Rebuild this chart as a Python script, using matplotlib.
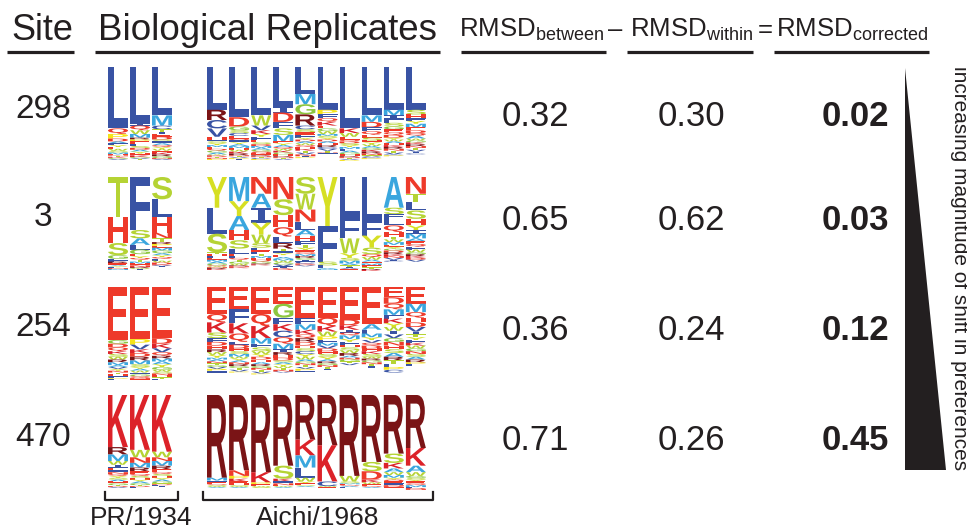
import matplotlib
matplotlib.use("Agg")
import matplotlib.pyplot as plt
from matplotlib.textpath import TextPath
from matplotlib.patches import PathPatch, Polygon
from matplotlib.font_manager import FontProperties
from matplotlib.transforms import Affine2D

W, H = 967, 531

sites = ["298", "3", "254", "470"]
rmsd_between = ["0.32", "0.65", "0.36", "0.71"]
rmsd_within = ["0.30", "0.62", "0.24", "0.26"]
rmsd_corrected = ["0.02", "0.03", "0.12", "0.45"]
strains = ["PR/1934", "Aichi/1968"]

# logo columns (letter + percent, top of stack first): 3 PR/1934 replicates, then 10 Aichi/1968
logo_298 = [
    "L66 Q6 P5 D3 A2 F2 Y2 E2 W2 S2 M2 H1 N1 T1 K1 G1 V1",
    "L61 I2 Q5 W4 M4 R2 P2 E3 F2 S2 D2 A2 Y2 H2 K2 G1 V1 T1",
    "L52 M11 C4 T3 I2 E3 D3 S2 F2 A2 Q2 Y2 W2 H2 K2 R2 G2 N1 V1",
    "L46 R11 C9 V9 H3 F2 S2 Y2 M2 E2 Q2 G2 A2 W1 K1 D1 T1 N1 P1",
    "L54 D10 G4 S3 C3 E3 Q2 F2 Y2 A2 M2 H2 W2 K2 R2 N1 T1 V1 P1 I1",
    "L52 W11 V5 K4 Y3 F3 E3 S2 D2 M2 A2 G2 Q2 H2 R1 N1 T1 C1 P1",
    "L43 I6 D10 F7 S7 M7 E2 Y2 A2 Q2 W2 K2 G2 H2 R1 N1 T1 V1",
    "L29 M11 G11 R12 C4 S3 E3 F3 Y2 D2 A2 W2 Q2 H2 K2 T2 V2 N2 I1 P1",
    "L46 P5 F4 Q4 K4 E3 G3 W3 M2 S2 Y2 D2 A2 H2 R2 C2 V2 T2 N1 I1",
    "L66 K5 W4 E3 Q2 D2 S2 Y2 M2 F2 A2 G2 H2 R1 N1 T1 V1 P1",
    "L52 M7 D6 F4 Q4 E3 S3 H2 Y2 W2 A2 G2 K2 R2 N2 T1 V1 C1 P1",
    "L46 M6 I4 F4 S4 G3 E3 Q3 D3 Y2 W2 A2 H2 K2 R2 N2 T2 V2 C1 P1",
    "L46 S5 H4 F3 Y3 M4 E3 D3 Q3 A3 W2 G2 K2 R2 N2 T2 V2 I2 C1",
]
logo_3 = [
    "T43 H28 S13 G4 F3 R2 E2 A1 Y1 L1 N1 M1",
    "F57 S9 A7 L5 G5 E2 Y2 Q2 T2 M2 H2 N2 R1 W1 I1",
    "S24 L19 H17 N6 T4 R2 P2 E2 M3 G3 A2 Y2 Q2 F2 W2 D2 K1 V1 I1",
    "Y33 L28 S20 T2 H2 F2 E2 M2 A2 G2 Q1 W1 N1 R1 K1",
    "M26 Y16 A15 H11 S9 L6 E2 F2 Q2 T2 G2 W2 R1 N1 K1",
    "N18 A15 I16 Y13 W9 S5 F3 E2 L2 T2 M2 H2 Q2 G2 R1 K1",
    "N24 S17 H13 Q10 L7 R6 T3 F2 Y2 E2 A2 M2 W2 G2 V2 I2 K1 D1",
    "S18 W17 N13 L9 A6 H6 F4 T3 Y3 E2 Q2 M2 R2 G2 I2 C2 K1 D1 V1",
    "Y53 F38 S4 L3 A1 M1",
    "L44 F22 W16 Y5 S3 M3 A2 T2 I1 V1 E1",
    "L47 F16 Y13 S7 Q3 W3 A2 H2 M2 E2 T2 R1 K1",
    "A33 S7 F5 L7 Q7 H5 T3 W3 M3 E2 Y2 G2 D2 R2 K2 N2 V2 I1 C1",
    "N18 T9 L9 S9 H7 Y5 I4 M5 A3 E3 Q3 F3 W3 G2 R2 K2 D2 V2",
]
logo_254 = [
    "E57 G4 D4 Q4 K3 S3 W3 R3 M3 A2 V2 Y2 N2 T2 H2 F2 P1 L1",
    "E56 P6 V5 K4 D4 R4 M4 S3 Y2 A2 W2 F2 G2 Q2 N1 H1",
    "E55 D6 K5 V4 Q4 R3 M3 A3 Y3 G3 W2 S2 N2 H2 T2 F1",
    "E29 Q9 K11 S6 F4 D4 H4 R3 W3 Y3 M2 A2 N2 T2 G2 V2 P2 L1 I1",
    "E24 F15 K11 Q9 L3 D4 H3 S3 M3 W2 Y2 A2 N2 R2 G2 T2 V2 P1",
    "E29 Q13 K13 M6 F4 S4 W3 Y3 D3 H3 A2 R2 G2 N2 T2 V2 P1",
    "E18 G15 F7 K7 C7 Q7 M6 I3 R3 H3 D3 S2 A2 Y2 W2 T2 N2 V1",
    "E33 F7 M6 K5 Q4 R4 D4 H3 S3 C3 Y3 W3 A2 G2 N2 T2 V2 P2 I1",
    "E33 Q9 K6 W5 P4 F3 M3 V3 D3 H3 S3 Y3 A2 R2 G2 N2 T2 I1",
    "E35 D6 K5 I3 Q3 M4 Y3 F3 H3 S3 W3 R3 A2 N2 G2 T2 V2",
    "E40 A6 F4 M4 Y3 V3 Q3 D3 H3 K3 S3 W2 R2 G2 N2 T2 I2",
    "E11 D7 Q6 M6 F4 K5 Y4 W4 I4 V4 G4 N4 H4 S4 A4 R4 T4 L3 P3 C3",
    "E18 M9 Q6 H5 D5 V5 I3 T3 Y3 F3 K3 W3 G3 N3 S3 A3 R3 P2 L2",
]
logo_470 = [
    "K56 R8 M7 W4 I3 E3 F2 N2 Q2 Y2 S2 A2 H2 G2 T1 D1 V1",
    "K59 W8 N6 M5 R4 E3 Q2 S2 H2 Y2 A2 G2 T1 D1 F1",
    "K61 W6 N4 M5 R4 E3 Q2 S2 H2 Y2 A2 G2 T1 D1 F1 I1",
    "R89 M3 F2 E2 Q1 S1 W1 A1",
    "R81 N6 P3 K3 E2 H2 S1 W1 A1",
    "R83 K11 P2 E2 W1 S1",
    "R76 S14 K3 F2 N2 E1 W1 A1",
    "R48 K17 M13 L11 W4 Y2 E2 S1 A1",
    "R54 K39 C5 W1 E1",
    "R87 W6 S2 M1 E1 Q1 A1 F1",
    "R72 S10 D9 K3 W2 E2 Q1 A1",
    "R63 S10 K6 A4 W3 M3 Y2 Q2 E2 F2 N1 D1 H1",
    "R57 K19 A7 W4 G2 S2 Y2 E2 Q2 M2 F1 D1 N1",
]
logos = [logo_298, logo_3, logo_254, logo_470]

# amino-acid colours (hydrophobicity scale)
aa_colors = {}
for aa in "ILVFC": aa_colors[aa] = "#3953a4"
for aa in "MA": aa_colors[aa] = "#3aa6de"
aa_colors["G"] = "#8cc63f"
for aa in "TSW": aa_colors[aa] = "#b5d334"
aa_colors["Y"] = "#d6df23"
aa_colors["P"] = "#f5e31a"
for aa in "HEQDN": aa_colors[aa] = "#ee3a2a"
aa_colors["K"] = "#dc2229"
aa_colors["R"] = "#7a1416"

ink = "#231f20"
sans = "Liberation Sans"
plt.rcParams["font.family"] = sans
plt.rcParams["mathtext.default"] = "regular"

fig = plt.figure(figsize=(W / 100, H / 100), dpi=100)
ax = fig.add_axes([0, 0, 1, 1]); ax.set_xlim(0, W); ax.set_ylim(0, H); ax.axis("off")

glyph_fp = FontProperties(family=sans, weight="bold")
serif_fp = FontProperties(family="DejaVu Sans Mono", weight="bold")
_glyphs = {}
def letter(ch, x, ytop, w, h):
    if ch not in _glyphs:
        _glyphs[ch] = TextPath((0, 0), ch, size=1, prop=serif_fp if ch == "I" else glyph_fp)
    p = _glyphs[ch]; b = p.get_extents()
    t = Affine2D().translate(-b.x0, -b.y0).scale(w / b.width, h / b.height).translate(x, H - ytop - h)
    ax.add_patch(PathPatch(t.transform_path(p), fc=aa_colors[ch], ec="none", lw=0))

row_top = [67, 177, 287, 395]
logo_h = 93
col_x = [108, 130, 152] + [207 + 22.1 * i for i in range(10)]
col_w = 20
for r, cols in enumerate(logos):
    for c, spec in enumerate(cols):
        y = row_top[r]
        for tok in spec.split():
            h = int(tok[1:]) / 100 * logo_h
            letter(tok[0], col_x[c], y, col_w, h)
            y += h

# headers
def uline(x0, x1, y=52):
    ax.plot([x0, x1], [H - y, H - y], color=ink, lw=2.3, solid_capstyle="butt")
ax.text(42, H - 40, "Site", fontsize=26, ha="center", va="baseline", color=ink)
uline(7, 74)
ax.text(267, H - 40, "Biological Replicates", fontsize=26.5, ha="center", va="baseline", color=ink)
uline(95, 440)
for cx, s, (x0, x1) in [(532, r"RMSD$_{between}$", (461, 606)), (691, r"RMSD$_{within}$", (627, 753)),
                        (852, r"RMSD$_{corrected}$", (774, 929))]:
    ax.text(cx, H - 37, s, fontsize=18.5, ha="center", va="baseline", color=ink)
    uline(x0, x1)
ax.text(615, H - 37, "–", fontsize=18.5, ha="center", va="baseline", color=ink)
ax.text(765, H - 37, "=", fontsize=18.5, ha="center", va="baseline", color=ink)

# site numbers and RMSD values
site_y = [110, 218, 327, 437]
val_y = [116, 221, 331, 441]
for i in range(4):
    ax.text(43, H - site_y[i], sites[i], fontsize=24, ha="center", va="center", color=ink)
    ax.text(535, H - val_y[i], rmsd_between[i], fontsize=25, ha="center", va="center", color=ink)
    ax.text(691, H - val_y[i], rmsd_within[i], fontsize=25, ha="center", va="center", color=ink)
    ax.text(855, H - val_y[i], rmsd_corrected[i], fontsize=25, ha="center", va="center",
            color=ink, fontweight="bold")

# strain brackets
for (x0, x1), lab in zip([(105, 178), (203, 433)], strains):
    ax.plot([x0, x0, x1, x1], [H - 492, H - 500, H - 500, H - 492], color=ink, lw=1.6)
    ax.text((x0 + x1) / 2, H - 518, lab, fontsize=19, ha="center", va="center", color=ink)

# wedge
ax.add_patch(Polygon([(905, H - 68), (905, H - 470), (946, H - 470)], closed=True, fc=ink, ec="none"))
ax.text(959, H - 268, "increasing magnitude of shift in preferences", rotation=-90, fontsize=15,
        ha="center", va="center", color=ink)

fig.savefig("out.png", dpi=100)
